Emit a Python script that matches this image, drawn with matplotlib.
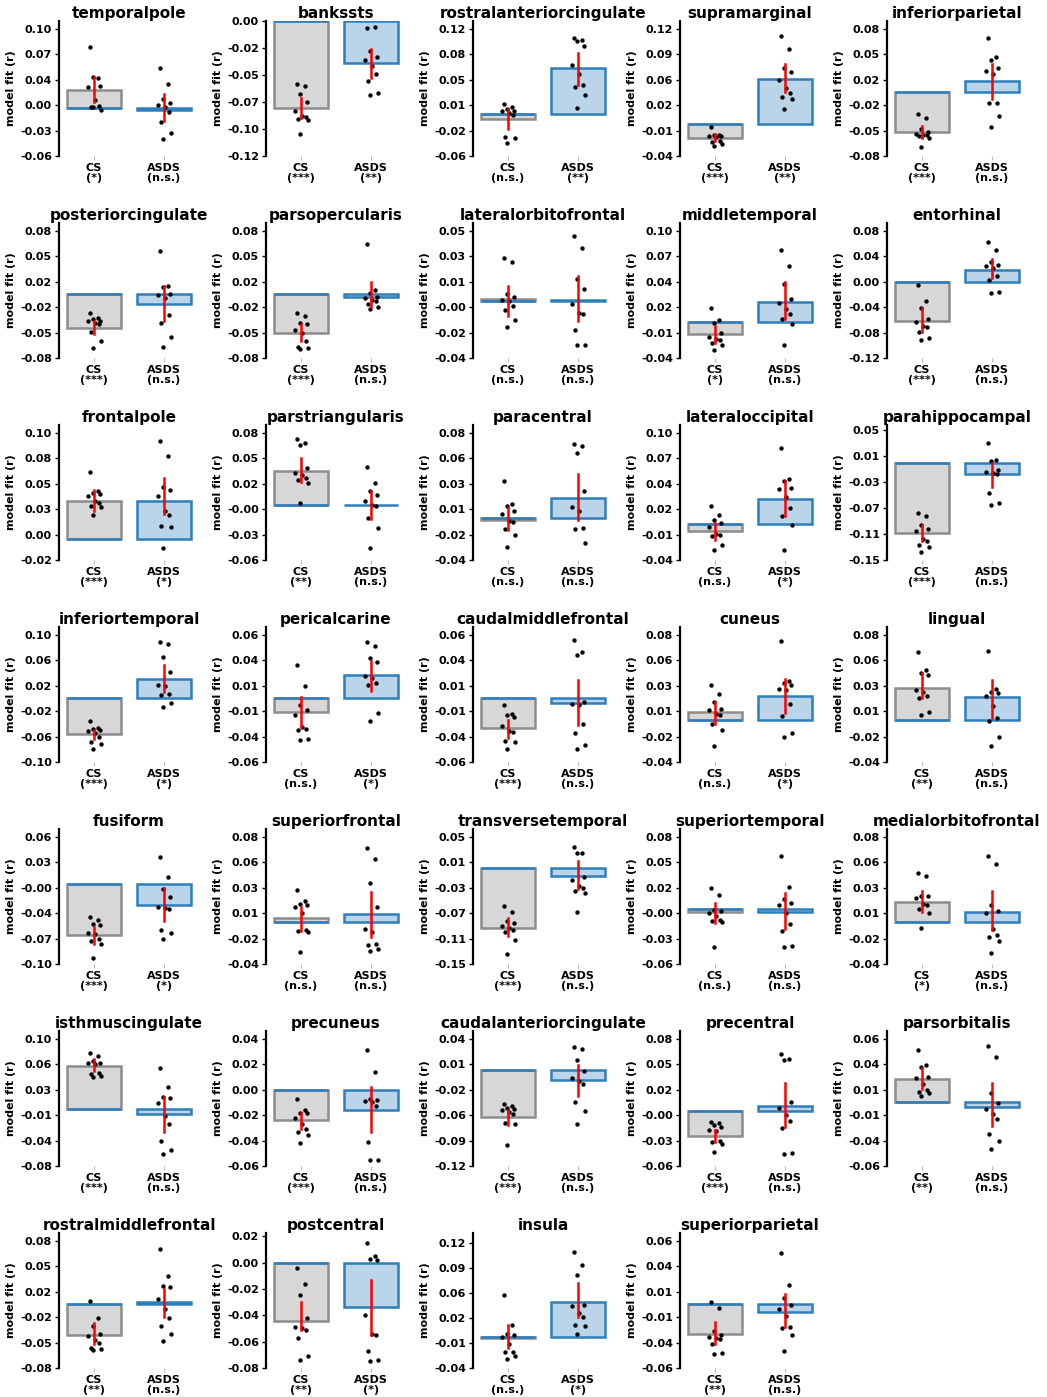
import numpy as np
import matplotlib
matplotlib.use('Agg')
import matplotlib.pyplot as plt

# ── Data ──────────────────────────────────────────────────────────────────────
regions = ['temporalpole', 'bankssts', 'rostralanteriorcingulate', 'supramarginal', 'inferiorparietal',
           'posteriorcingulate', 'parsopercularis', 'lateralorbitofrontal', 'middletemporal', 'entorhinal',
           'frontalpole', 'parstriangularis', 'paracentral', 'lateraloccipital', 'parahippocampal',
           'inferiortemporal', 'pericalcarine', 'caudalmiddlefrontal', 'cuneus', 'lingual',
           'fusiform', 'superiorfrontal', 'transversetemporal', 'superiortemporal', 'medialorbitofrontal',
           'isthmuscingulate', 'precuneus', 'caudalanteriorcingulate', 'precentral', 'parsorbitalis',
           'rostralmiddlefrontal', 'postcentral', 'insula', 'superiorparietal']

tick_lo = [-0.06, -0.12, -0.06, -0.04, -0.08,
           -0.08, -0.08, -0.04, -0.04, -0.12,
           -0.02, -0.06, -0.04, -0.04, -0.15,
           -0.10, -0.06, -0.06, -0.04, -0.04,
           -0.10, -0.04, -0.15, -0.06, -0.04,
           -0.08, -0.06, -0.12, -0.06, -0.06,
           -0.08, -0.08, -0.04, -0.06]
tick_hi = [0.10, 0.00, 0.12, 0.12, 0.08,
           0.08, 0.08, 0.05, 0.10, 0.08,
           0.10, 0.08, 0.08, 0.10, 0.05,
           0.10, 0.06, 0.06, 0.08, 0.08,
           0.06, 0.08, 0.05, 0.08, 0.08,
           0.10, 0.04, 0.04, 0.08, 0.06,
           0.08, 0.02, 0.12, 0.06]

cs_mean = [0.023, -0.077, -0.008, -0.017, -0.050,
           -0.042, -0.048, 0.002, -0.014, -0.062,
           0.036, 0.038, -0.002, -0.008, -0.109,
           -0.056, -0.013, -0.028, 0.007, 0.030,
           -0.063, 0.003, -0.093, -0.003, 0.018,
           0.061, -0.024, -0.058, -0.027, 0.022,
           -0.038, -0.044, -0.002, -0.028]
asds_mean = [-0.002, -0.037, 0.064, 0.057, 0.014,
             -0.012, -0.003, 0.001, 0.022, 0.018,
             0.036, 0.001, 0.018, 0.027, -0.018,
             0.030, 0.022, -0.004, 0.022, 0.021,
             -0.026, 0.007, -0.012, -0.003, 0.009,
             -0.007, -0.016, -0.012, 0.006, -0.004,
             0.003, -0.034, 0.045, -0.007]

cs_ci = [(0.008, 0.039), (-0.086, -0.068), (-0.022, 0.006), (-0.021, -0.012), (-0.057, -0.042),
         (-0.050, -0.034), (-0.059, -0.037), (-0.010, 0.011), (-0.023, -0.005), (-0.079, -0.041),
         (0.026, 0.046), (0.026, 0.052), (-0.012, 0.010), (-0.018, 0.001), (-0.120, -0.096),
         (-0.064, -0.050), (-0.027, 0.001), (-0.037, -0.020), (-0.004, 0.017), (0.020, 0.044),
         (-0.075, -0.054), (-0.009, 0.014), (-0.106, -0.078), (-0.015, 0.007), (0.009, 0.029),
         (0.054, 0.071), (-0.031, -0.018), (-0.068, -0.050), (-0.034, -0.020), (0.013, 0.032),
         (-0.050, -0.023), (-0.051, -0.030), (-0.015, 0.015), (-0.037, -0.017)]
asds_ci = [(-0.016, 0.018), (-0.051, -0.025), (0.040, 0.086), (0.040, 0.076), (-0.009, 0.036),
           (-0.033, 0.011), (-0.016, 0.016), (-0.014, 0.018), (0.003, 0.043), (0.006, 0.035),
           (0.023, 0.057), (-0.015, 0.016), (-0.002, 0.041), (0.008, 0.047), (-0.037, -0.001),
           (0.010, 0.053), (0.007, 0.035), (-0.025, 0.017), (0.006, 0.038), (0.001, 0.037),
           (-0.046, -0.005), (-0.015, 0.028), (-0.032, 0.012), (-0.021, 0.018), (-0.008, 0.029),
           (-0.032, 0.017), (-0.033, 0.002), (-0.032, 0.007), (-0.017, 0.031), (-0.022, 0.018),
           (-0.016, 0.019), (-0.055, -0.013), (0.025, 0.069), (-0.021, 0.010)]

cs_pts = [
    [0.077, 0.038, 0.039, 0.028, 0.027, 0.010, 0.003, 0.002, -0.002, 0.001],
    [-0.056, -0.058, -0.065, -0.072, -0.080, -0.084, -0.085, -0.087, -0.088, -0.100],
    [0.014, 0.009, 0.007, 0.004, 0.003, 0.001, -0.002, -0.033, -0.035, -0.041],
    [-0.004, -0.014, -0.014, -0.015, -0.015, -0.016, -0.021, -0.023, -0.025, -0.027],
    [-0.027, -0.032, -0.046, -0.050, -0.052, -0.053, -0.054, -0.055, -0.058, -0.069],
    [-0.023, -0.030, -0.031, -0.033, -0.034, -0.036, -0.037, -0.047, -0.059, -0.068],
    [-0.024, -0.027, -0.036, -0.037, -0.045, -0.049, -0.059, -0.066, -0.067, -0.069],
    [0.031, 0.028, 0.005, 0.003, 0.001, -0.000, -0.003, -0.006, -0.013, -0.018],
    [0.015, 0.002, -0.001, -0.012, -0.017, -0.019, -0.020, -0.024, -0.026, -0.031],
    [-0.005, -0.030, -0.041, -0.059, -0.064, -0.070, -0.072, -0.079, -0.089, -0.092],
    [0.063, 0.045, 0.043, 0.042, 0.040, 0.036, 0.034, 0.031, 0.030, 0.022],
    [0.073, 0.069, 0.066, 0.041, 0.036, 0.033, 0.030, 0.028, 0.025, 0.003],
    [0.034, 0.013, 0.011, 0.006, 0.003, -0.003, -0.004, -0.011, -0.016, -0.028],
    [0.019, 0.010, 0.004, 0.001, -0.004, -0.011, -0.012, -0.014, -0.024, -0.029],
    [-0.078, -0.082, -0.096, -0.103, -0.105, -0.118, -0.120, -0.127, -0.130, -0.137],
    [-0.036, -0.047, -0.048, -0.050, -0.051, -0.055, -0.061, -0.069, -0.072, -0.080],
    [0.031, 0.012, -0.006, -0.011, -0.016, -0.027, -0.029, -0.030, -0.038, -0.039],
    [-0.006, -0.015, -0.016, -0.018, -0.026, -0.031, -0.032, -0.040, -0.041, -0.048],
    [0.033, 0.024, 0.017, 0.010, 0.009, 0.005, 0.004, -0.004, -0.010, -0.025],
    [0.064, 0.047, 0.044, 0.042, 0.028, 0.026, 0.022, 0.020, 0.007, 0.004],
    [-0.041, -0.045, -0.050, -0.051, -0.061, -0.062, -0.069, -0.071, -0.075, -0.093],
    [0.030, 0.019, 0.017, 0.016, 0.014, 0.008, -0.008, -0.009, -0.010, -0.029],
    [-0.059, -0.068, -0.083, -0.085, -0.091, -0.094, -0.096, -0.100, -0.112, -0.135],
    [0.023, 0.016, -0.001, -0.002, -0.004, -0.007, -0.012, -0.013, -0.014, -0.041],
    [0.046, 0.043, 0.024, 0.024, 0.022, 0.017, 0.016, 0.012, 0.008, -0.006],
    [0.080, 0.075, 0.068, 0.066, 0.065, 0.064, 0.052, 0.050, 0.047, 0.046],
    [-0.007, -0.016, -0.018, -0.018, -0.022, -0.027, -0.031, -0.033, -0.036, -0.042],
    [-0.042, -0.044, -0.047, -0.048, -0.050, -0.052, -0.055, -0.066, -0.067, -0.094],
    [-0.012, -0.013, -0.015, -0.017, -0.020, -0.022, -0.032, -0.034, -0.036, -0.045],
    [0.049, 0.035, 0.033, 0.024, 0.023, 0.017, 0.012, 0.010, 0.009, 0.006],
    [0.004, -0.017, -0.027, -0.037, -0.040, -0.045, -0.048, -0.055, -0.056, -0.058],
    [-0.004, -0.016, -0.025, -0.042, -0.049, -0.050, -0.051, -0.057, -0.071, -0.074],
    [0.054, 0.015, 0.004, 0.002, -0.000, -0.009, -0.019, -0.020, -0.025, -0.028],
    [0.002, -0.003, -0.025, -0.029, -0.031, -0.032, -0.033, -0.037, -0.046, -0.047],
]
asds_pts = [
    [0.051, 0.031, 0.012, 0.007, 0.004, 0.001, -0.005, -0.017, -0.031, -0.039],
    [-0.006, -0.005, -0.027, -0.032, -0.035, -0.040, -0.047, -0.053, -0.064, -0.066],
    [0.107, 0.104, 0.102, 0.096, 0.068, 0.056, 0.040, 0.037, 0.026, 0.008],
    [0.111, 0.094, 0.071, 0.065, 0.055, 0.045, 0.039, 0.034, 0.031, 0.019],
    [0.068, 0.044, 0.040, 0.030, 0.027, 0.023, -0.013, -0.014, -0.030, -0.044],
    [0.055, 0.011, 0.009, 0.001, -0.001, -0.004, -0.026, -0.036, -0.053, -0.066],
    [0.063, 0.005, 0.002, -0.003, -0.005, -0.007, -0.009, -0.012, -0.016, -0.018],
    [0.046, 0.038, 0.016, 0.009, -0.002, -0.008, -0.009, -0.020, -0.031, -0.031],
    [0.079, 0.061, 0.041, 0.025, 0.021, 0.014, 0.008, 0.003, -0.003, -0.026],
    [0.062, 0.049, 0.030, 0.026, 0.024, 0.022, 0.009, 0.002, -0.017, -0.018],
    [0.092, 0.078, 0.049, 0.046, 0.040, 0.026, 0.022, 0.012, 0.011, -0.009],
    [0.042, 0.025, 0.016, 0.012, 0.005, -0.000, -0.001, -0.014, -0.025, -0.047],
    [0.069, 0.067, 0.061, 0.025, 0.010, 0.006, -0.010, -0.011, -0.024],
    [0.083, 0.049, 0.047, 0.039, 0.038, 0.029, 0.017, 0.008, -0.002, -0.029],
    [0.031, 0.004, 0.003, -0.012, -0.014, -0.016, -0.017, -0.047, -0.062, -0.065],
    [0.088, 0.085, 0.065, 0.042, 0.021, 0.019, 0.007, 0.006, -0.007, -0.014],
    [0.053, 0.049, 0.038, 0.034, 0.021, 0.019, 0.014, 0.013, -0.014, -0.021],
    [0.055, 0.044, 0.041, -0.003, -0.005, -0.006, -0.024, -0.033, -0.044, -0.048],
    [0.074, 0.036, 0.034, 0.033, 0.029, 0.028, 0.015, 0.003, -0.013, -0.016],
    [0.065, 0.029, 0.026, 0.025, 0.022, 0.013, 0.001, -0.001, -0.016, -0.025],
    [0.035, 0.009, -0.006, -0.016, -0.028, -0.030, -0.031, -0.057, -0.061, -0.068],
    [0.069, 0.059, 0.036, 0.014, -0.007, -0.010, -0.021, -0.022, -0.026, -0.028],
    [0.034, 0.025, 0.024, -0.014, -0.018, -0.028, -0.031, -0.035, -0.038, -0.069],
    [0.059, 0.025, 0.011, 0.007, 0.005, -0.004, -0.016, -0.024, -0.040, -0.041],
    [0.062, 0.054, 0.016, 0.010, 0.008, -0.007, -0.013, -0.015, -0.018, -0.030],
    [0.058, 0.031, 0.017, 0.016, 0.009, -0.009, -0.021, -0.044, -0.057, -0.063],
    [0.031, 0.014, -0.007, -0.008, -0.009, -0.010, -0.013, -0.041, -0.055, -0.055],
    [0.029, 0.027, 0.013, -0.001, -0.009, -0.013, -0.017, -0.040, -0.051, -0.067],
    [0.063, 0.058, 0.057, 0.010, 0.004, -0.004, -0.011, -0.018, -0.046, -0.047],
    [0.053, 0.043, 0.009, -0.001, -0.006, -0.011, -0.016, -0.030, -0.036, -0.044],
    [0.069, 0.036, 0.023, 0.022, 0.007, -0.006, -0.017, -0.027, -0.037, -0.046],
    [0.015, 0.005, 0.003, 0.002, -0.040, -0.054, -0.055, -0.067, -0.074, -0.075],
    [0.108, 0.092, 0.079, 0.041, 0.040, 0.031, 0.025, 0.015, 0.014, 0.004],
    [0.048, 0.018, 0.006, -0.001, -0.004, -0.011, -0.021, -0.022, -0.029, -0.044],
]

cs_sig = ['*', '***', 'n.s.', '***', '***',
          '***', '***', 'n.s.', '*', '***',
          '***', '**', 'n.s.', 'n.s.', '***',
          '***', 'n.s.', '***', 'n.s.', '**',
          '***', 'n.s.', '***', 'n.s.', '*',
          '***', '***', '***', '***', '**',
          '**', '**', 'n.s.', '**']
asds_sig = ['n.s.', '**', '**', '**', 'n.s.',
            'n.s.', 'n.s.', 'n.s.', 'n.s.', 'n.s.',
            '*', 'n.s.', 'n.s.', '*', 'n.s.',
            '*', '*', 'n.s.', '*', 'n.s.',
            '*', 'n.s.', 'n.s.', 'n.s.', 'n.s.',
            'n.s.', 'n.s.', 'n.s.', 'n.s.', 'n.s.',
            'n.s.', '*', '*', 'n.s.']

# headroom above the top tick, in tick steps (default 0.3)
top_pad = {'bankssts': 0.0, 'postcentral': 0.12, 'insula': 0.4, 'parahippocampal': 0.2}

# ── Style ──────────────────────────────────────────────────────────────────────
GRAY_FACE = '#d7d7d7'
GRAY_EDGE = '#8c8c8c'
BLUE_FACE = '#bad4e9'
BLUE_EDGE = '#2e7ebc'
JITTER = [-0.06, 0.05, -0.02, 0.08, -0.09, 0.02, 0.07, -0.05, 0.10, -0.01]
BAR_W = 0.78

plt.rcParams['font.family'] = 'DejaVu Sans'
plt.rcParams['font.weight'] = 'bold'

W, H = 1047, 1397
fig = plt.figure(figsize=(W / 100, H / 100), dpi=100)

for i, name in enumerate(regions):
    row, col = divmod(i, 5)
    left = (59 + 207 * col) / W
    bottom = 1 - (21 + 202 * row + 135) / H
    ax = fig.add_axes([left, bottom, 140 / W, 135 / H])

    ax.bar(0, cs_mean[i], width=BAR_W, color=GRAY_FACE, edgecolor=GRAY_EDGE,
           linewidth=1.8, zorder=1)
    ax.plot([-BAR_W / 2, BAR_W / 2], [0, 0], color=BLUE_EDGE, linewidth=1.8,
            solid_capstyle='butt', zorder=2)
    ax.bar(1, asds_mean[i], width=BAR_W, color=BLUE_FACE, edgecolor=BLUE_EDGE,
           linewidth=1.8, zorder=1)

    for xc, pts in ((0, cs_pts[i]), (1, asds_pts[i])):
        xs = [xc + JITTER[k % len(JITTER)] for k in range(len(pts))]
        ax.scatter(xs, pts, s=10, color='black', linewidths=0, zorder=3)
    ax.plot([0, 0], cs_ci[i], color='red', linewidth=1.8, zorder=4)
    ax.plot([1, 1], asds_ci[i], color='red', linewidth=1.8, zorder=4)

    ticks = np.linspace(tick_lo[i], tick_hi[i], 6)
    step = ticks[1] - ticks[0]
    ax.set_ylim(tick_lo[i], tick_hi[i] + top_pad.get(name, 0.3) * step)
    ax.set_yticks(ticks)
    ax.set_yticklabels([f'{0.0 if abs(t) < 1e-9 else t:.2f}' for t in ticks],
                       fontsize=8, fontweight='bold')
    ax.set_xlim(-0.5, 1.5)
    ax.set_xticks([0, 1])
    ax.set_xticklabels([f'CS\n({cs_sig[i]})', f'ASDS\n({asds_sig[i]})'],
                       fontsize=8, fontweight='bold', linespacing=1.0)
    ax.tick_params(axis='x', length=3, color='#bbbbbb', pad=2)
    ax.tick_params(axis='y', length=3, width=1, pad=2)
    ax.set_ylabel('model fit (r)', fontsize=8, fontweight='bold', labelpad=3)
    ax.set_title(name, fontsize=11, fontweight='bold', pad=2)

    for s in ('top', 'right', 'bottom'):
        ax.spines[s].set_visible(False)
    ax.spines['left'].set_linewidth(1.6)

plt.savefig('out.png', dpi=100)
plt.close()
